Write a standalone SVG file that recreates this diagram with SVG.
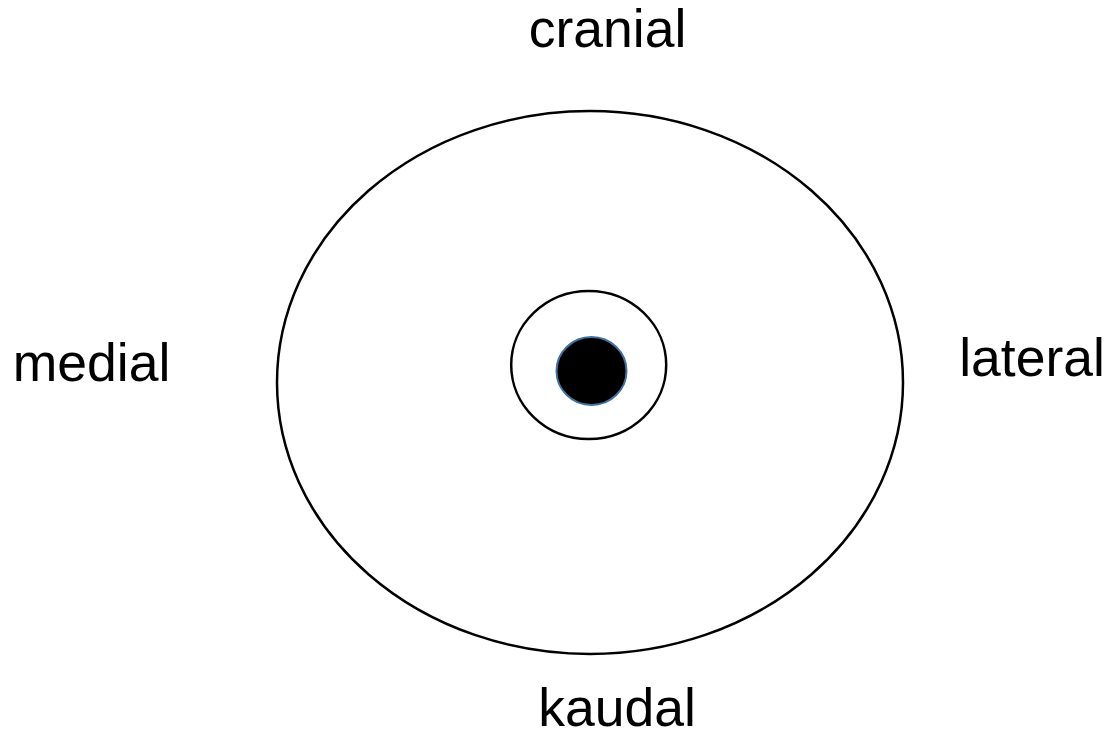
<svg xmlns="http://www.w3.org/2000/svg" width="1119" height="738" viewBox="0 0 1119 738">
<style>
.lbl{font-family:"Liberation Sans",Arial,sans-serif;font-size:53.5px;fill:#000}
.ring{fill:none;stroke:#000;stroke-width:2.5}
</style>
<rect width="1119" height="738" fill="#fff"/>
<g id="outer"><ellipse class="ring" cx="590" cy="382.5" rx="313" ry="271.5"/></g>
<g id="inner"><ellipse class="ring" cx="588.7" cy="365" rx="77.5" ry="74"/></g>
<g id="core"><ellipse cx="591.5" cy="371" rx="35" ry="34" fill="#000" stroke="#41719C" stroke-width="2"/></g>
<g id="connectors"/>
<g id="label-cranial"><text class="lbl" x="607.5" y="47" text-anchor="middle">cranial</text></g>
<g id="label-medial"><text class="lbl" x="91.5" y="381" text-anchor="middle">medial</text></g>
<g id="label-lateral"><text class="lbl" x="1032" y="376" text-anchor="middle">lateral</text></g>
<g id="label-kaudal"><text class="lbl" x="617" y="726" text-anchor="middle">kaudal</text></g>
</svg>
